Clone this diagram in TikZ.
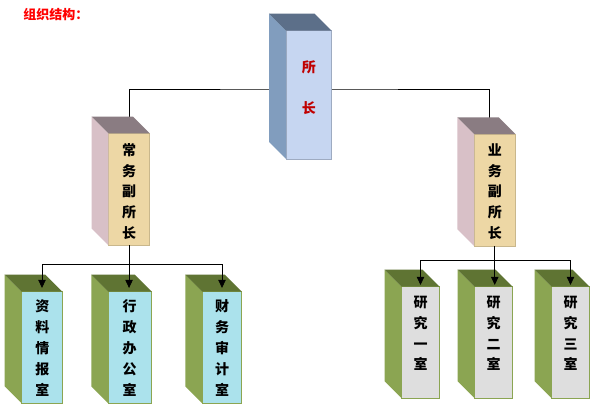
\documentclass[tikz,border=0pt]{standalone}
\usepackage{fontspec}
\newfontfamily\cjk{Noto Sans CJK SC}
\usetikzlibrary{arrows.meta}
\definecolor{topF}{HTML}{C6D6F1}
\definecolor{topS}{HTML}{819DBE}
\definecolor{topT}{HTML}{5C6F89}
\definecolor{midF}{HTML}{EDD7A5}
\definecolor{midS}{HTML}{D8C0C7}
\definecolor{midT}{HTML}{8A7C82}
\definecolor{waterF}{HTML}{ABE2EC}
\definecolor{marbleF}{HTML}{DEDEDE}
\definecolor{grnS}{HTML}{8BA552}
\definecolor{grnT}{HTML}{5F7433}
\definecolor{titleRed}{HTML}{FF0000}
\definecolor{boxRed}{HTML}{C00000}
\newcommand\cubefaces[4]{%
  \fill[#3] (#1.north west) -- ++(-#2,-#2) -- ([shift={(-#2,-#2)}]#1.south west) -- (#1.south west) -- cycle;
  \fill[#4] (#1.north west) -- ++(-#2,-#2) -- ([shift={(-#2,-#2)}]#1.north east) -- (#1.north east) -- cycle;
}
\begin{document}
\begin{tikzpicture}[x=0.75pt,y=-0.75pt]
\useasboundingbox[fill=white] (0,0) rectangle (616,419);
\tikzset{
  face/.style={inner sep=0pt, outer sep=0pt, line width=0.6pt},
  topfront/.style={face, fill=topF, draw=topF!80!black, minimum width=34.1pt, minimum height=96.2pt},
  midfront/.style={face, fill=midF, draw=midF!85!black, minimum width=31.1pt, minimum height=84pt},
  waterfront/.style={face, fill=waterF, draw=grnS, minimum height=83.7pt},
  marblefront/.style={face, fill=marbleF, draw=grnS, minimum width=28.5pt, minimum height=83.5pt},
  lbl/.style={font=\cjk\bfseries\fontsize{10.5pt}{15.6pt}\selectfont, align=center, inner sep=0pt},
  conn/.style={line width=0.6pt, draw=black},
  arr/.style={conn, -{Triangle[width=5.5pt,length=6pt]}},
}
% title
\node[anchor=west, inner sep=0pt, text=titleRed, font=\cjk\bfseries\fontsize{9.75pt}{12pt}\selectfont] (title) at (23,15) {组织结构：};

% front faces (nodes)
\node[topfront] (top) at (308.75,94.85) {};
\node[midfront] (midL) at (129.05,189.3) {};
\node[midfront] (midR) at (494.75,190) {};

% upper connector (behind boxes)
\coordinate (tj) at (308.75,89);
\draw[conn] (midL.north) |- (tj) -| ([xshift=-4.1pt]midR.north);
\node[topfront] at (top) {};
\node[midfront] at (midL) {};
\node[midfront] at (midR) {};

\cubefaces{top}{17}{topS}{topT}
\cubefaces{midL}{16.7}{midS}{midT}
\cubefaces{midR}{16.7}{midS}{midT}

% bottom boxes
\node[waterfront, minimum width=30.5pt] (b1) at (42,347.5) {};
\node[waterfront, minimum width=32.6pt] (b2) at (130,347.5) {};
\node[waterfront, minimum width=29.6pt] (b3) at (222,347.5) {};
\node[marblefront] (r1) at (420.5,342.35) {};
\node[marblefront] (r2) at (493.5,342.35) {};
\node[marblefront] (r3) at (570.5,342.35) {};
\cubefaces{b1}{17}{grnS}{grnT}
\cubefaces{b2}{17}{grnS}{grnT}
\cubefaces{b3}{17}{grnS}{grnT}
\cubefaces{r1}{17}{grnS}{grnT}
\cubefaces{r2}{17}{grnS}{grnT}
\cubefaces{r3}{17}{grnS}{grnT}

% labels
\node[lbl, text=boxRed] (topT) at (308.75,87.5) {所\\[15pt]长};
\node[lbl] (midLT) at (129,191.5) {常\\务\\副\\所\\长};
\node[lbl] (midRT) at (494.8,191.5) {业\\务\\副\\所\\长};
\node[lbl] (b1T) at (42.3,348) {资\\料\\情\\报\\室};
\node[lbl] (b2T) at (129.5,348) {行\\政\\办\\公\\室};
\node[lbl] (b3T) at (222,348) {财\\务\\审\\计\\室};
\node[lbl] (r1T) at (420.5,333.5) {研\\究\\一\\室};
\node[lbl] (r2T) at (493.5,333.5) {研\\究\\二\\室};
\node[lbl] (r3T) at (570.5,333.5) {研\\究\\三\\室};

% lower connectors
\path (midL.south) ++(0,18.7) coordinate (lj);
\path (midR.south) ++(0,14) coordinate (rj);
\draw[conn] (midL.south) -- (lj);
\draw[arr, shorten >=2.8pt] (lj) -| (b1.north);
\draw[arr, shorten >=2.8pt] (lj) -- (lj |- b2.north);
\draw[arr, shorten >=2.8pt] (lj) -| (b3.north);
\draw[conn] (midR.south) -- (rj);
\draw[arr, shorten >=1.3pt] (rj) -| (r1.north);
\draw[arr, shorten >=1.3pt] (rj) -- (rj |- r2.north);
\draw[arr, shorten >=1.3pt] (rj) -| (r3.north);
\end{tikzpicture}
\end{document}
